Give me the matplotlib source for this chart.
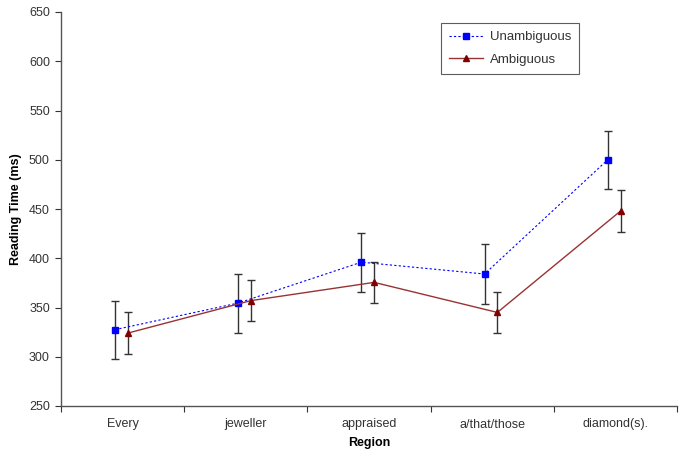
import matplotlib
matplotlib.use("Agg")
import matplotlib.pyplot as plt
import numpy as np
from matplotlib.lines import Line2D

plt.rcParams['font.family'] = ['Liberation Sans', 'DejaVu Sans']

regions = ["Every", "jeweller", "appraised", "a/that/those", "diamond(s)."]
unamb = [327.5, 354.5, 396, 384, 500]
unamb_err = [29.5, 30, 30, 30, 29.5]
amb = [324, 357, 375.5, 345, 448]
amb_err = [21.5, 21, 21, 21, 21]

fig = plt.figure(figsize=(6.83, 4.57), dpi=100)
ax = fig.add_axes([61/683, 1-406/457, (677-61)/683, (406-12)/457])

x = np.arange(1, len(regions)+1)
ax.errorbar(x-0.062, unamb, yerr=unamb_err, color='#0000FF', ls=(0, (2, 2)), lw=0.8,
            marker='s', ms=4.5, mfc='#0000FF', mec='#0000FF', ecolor='#333333',
            elinewidth=1.0, capsize=3, capthick=1.0, label='Unambiguous', zorder=3)
ax.errorbar(x+0.042, amb, yerr=amb_err, color='#993333', ls='-', lw=1.0,
            marker='^', ms=5, mfc='#800000', mec='#800000', ecolor='#333333',
            elinewidth=1.0, capsize=3, capthick=1.0, label='Ambiguous', zorder=3)

ax.set_xlim(0.5, len(regions)+0.5)
ax.set_ylim(250, 650)
ax.set_yticks(np.arange(250, 651, 50))
ax.set_xticks(np.arange(0.5, len(regions)+1, 1))
ax.set_xticklabels([])
ax.set_xticks(x, minor=True)
ax.set_xticklabels(regions, minor=True)
ax.tick_params(axis='x', which='minor', length=0, pad=9, labelsize=9, labelcolor='#333333')
ax.tick_params(axis='x', which='major', length=4, color='#333333', direction='out')
ax.tick_params(axis='y', length=4, color='#333333', direction='out', pad=4,
               labelsize=9, labelcolor='#333333')
for s in ['top', 'right']:
    ax.spines[s].set_visible(False)
for s in ['left', 'bottom']:
    ax.spines[s].set_color('#555555')
    ax.spines[s].set_linewidth(1.0)

ax.set_xlabel('Region', fontsize=9, fontweight='bold', labelpad=5)
ax.set_ylabel('Reading Time (ms)', fontsize=9, fontweight='bold', labelpad=5)

h1 = Line2D([], [], color='#0000FF', ls=(0, (2, 2)), lw=0.8, marker='s', ms=4.5)
h2 = Line2D([], [], color='#993333', ls='-', lw=1.0, marker='^', ms=5, mfc='#800000', mec='#800000')
leg = ax.legend([h1, h2], ['Unambiguous', 'Ambiguous'], loc='upper left',
                bbox_to_anchor=((441-61)/616, 1-(23-12)/394), borderaxespad=0,
                fontsize=9.5, frameon=True, fancybox=False, edgecolor='#333333',
                handlelength=2.6, borderpad=0.6, labelspacing=0.8, handletextpad=0.5)
leg.get_frame().set_linewidth(0.8)
for t in leg.get_texts():
    t.set_color('#333333')

fig.savefig('out.png', dpi=100)
